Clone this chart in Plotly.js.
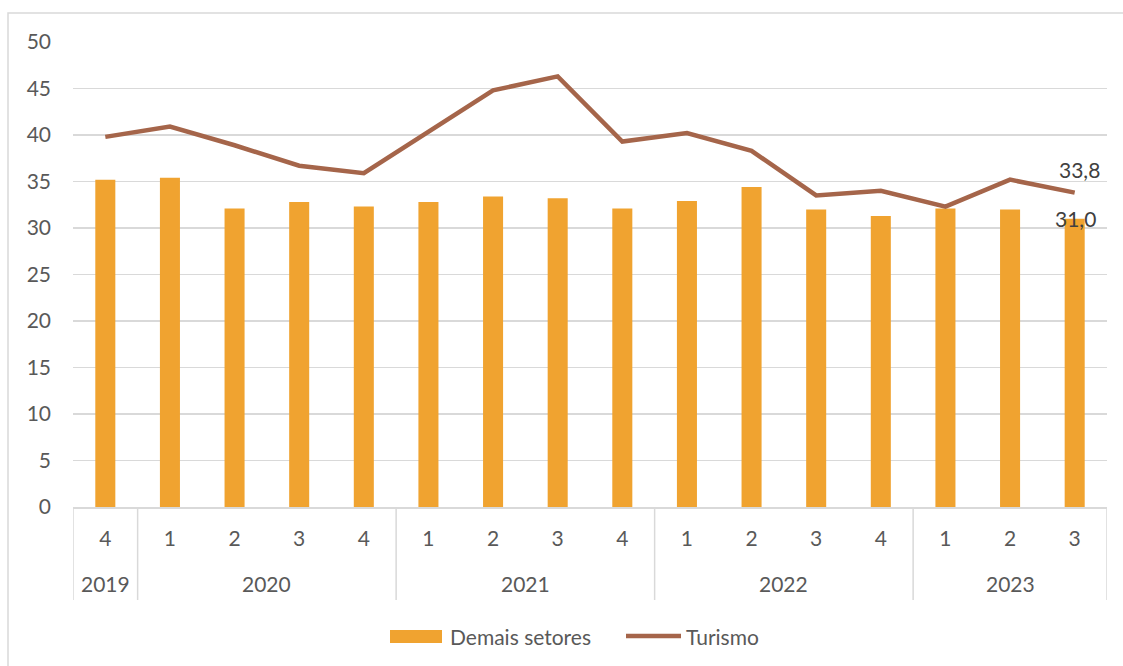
<!DOCTYPE html>
<html>
<head>
<meta charset="utf-8">
<script src="https://cdn.plot.ly/plotly-3.0.1.min.js"></script>
<style>html,body{margin:0;padding:0;background:#fff;}#chart{width:1123px;height:666px;}</style>
</head>
<body>
<div id="chart"></div>
<script>
const years = ["2019","2020","2020","2020","2020","2021","2021","2021","2021","2022","2022","2022","2022","2023","2023","2023"];
const quarters = ["4","1","2","3","4","1","2","3","4","1","2","3","4","1","2","3"];
const demaisSetores = [35.2,35.4,32.1,32.8,32.3,32.8,33.4,33.2,32.1,32.9,34.4,32.0,31.3,32.1,32.0,31.0];
const turismo = [39.8,40.9,38.9,36.7,35.9,40.3,44.8,46.3,39.3,40.2,38.3,33.5,34.0,32.3,35.2,33.8];
const yTicks = [0,5,10,15,20,25,30,35,40,45,50];
const seriesNames = ["Demais setores", "Turismo"];
const colors = ["#F0A330", "#A5654A"];

const fmt = v => v.toFixed(1).replace('.', ',');
const idx = quarters.map((_, i) => i);
const last = idx.length - 1;
const W = 1123, H = 666, mL = 73, mR = 16, mT = 42, mB = 159;
const pw = W - mL - mR, ph = H - mT - mB;
const px = x => (x - mL) / pw, py = y => (H - mB - y) / ph;
const TXT = '#595959', GRID = '#d9d9d9', FS = 21;

// year groups
const groups = [];
years.forEach((y, i) => {
  if (!groups.length || groups[groups.length - 1].year !== y) groups.push({year: y, start: i, end: i});
  else groups[groups.length - 1].end = i;
});

const traces = [
  {type:'bar', name:seriesNames[0], x:idx, y:demaisSetores,
   marker:{color:colors[0], line:{width:0}}, hoverinfo:'y', showlegend:false},
  {type:'scatter', mode:'lines', name:seriesNames[1], x:idx, y:turismo,
   line:{color:colors[1], width:4.5}, hoverinfo:'y', showlegend:false}
];

const annotations = [
  {x:last, y:turismo[last], xref:'x', yref:'y', text:fmt(turismo[last]), showarrow:false,
   xshift:5, yshift:23, font:{size:FS, color:'#404040'}},
  {x:last, y:demaisSetores[last], xref:'x', yref:'y', text:fmt(demaisSetores[last]), showarrow:false,
   xshift:1, yshift:0, font:{size:FS, color:'#404040'}},
  {x:px(448), y:py(636), xref:'paper', yref:'paper', xanchor:'left', yanchor:'middle',
   text:seriesNames[0], showarrow:false, font:{size:FS, color:TXT}},
  {x:px(684), y:py(636), xref:'paper', yref:'paper', xanchor:'left', yanchor:'middle',
   text:seriesNames[1], showarrow:false, font:{size:FS, color:TXT}}
];
groups.forEach(g => annotations.push({
  x:(g.start + g.end) / 2, y:py(583.5), xref:'x', yref:'paper', yanchor:'middle',
  text:g.year, showarrow:false, font:{size:FS, color:TXT}
}));

const shapes = [
  {type:'rect', xref:'paper', yref:'paper', x0:px(8), x1:px(1140), y0:py(13), y1:py(690),
   line:{color:GRID, width:1.5}, fillcolor:'rgba(0,0,0,0)', layer:'below'},
  {type:'rect', xref:'paper', yref:'paper', x0:px(390), x1:px(442), y0:py(643), y1:py(630),
   line:{width:0}, fillcolor:colors[0]},
  {type:'line', xref:'paper', yref:'paper', x0:px(626), x1:px(681), y0:py(636), y1:py(636),
   line:{color:colors[1], width:4.5}}
];
const bounds = [groups[0].start - 0.5].concat(groups.map(g => g.end + 0.5));
bounds.forEach(b => shapes.push({type:'line', xref:'x', yref:'paper', x0:b, x1:b, y0:py(507), y1:py(600),
   line:{color:GRID, width:1.5}}));

const layout = {
  width: W, height: H,
  margin:{l:mL, r:mR, t:mT, b:mB, pad:0},
  paper_bgcolor:'#ffffff', plot_bgcolor:'#ffffff',
  font:{family:'Lato, "Open Sans", sans-serif', size:FS, color:TXT},
  bargap:0.69,
  showlegend:false,
  xaxis:{type:'linear', range:[-0.5, last + 0.5], tickvals:idx, ticktext:quarters,
         showgrid:false, zeroline:false, showline:true, linecolor:GRID, linewidth:1.5,
         ticks:'', ticklabelstandoff:12, tickfont:{size:FS, color:TXT}},
  yaxis:{range:[0,50], tickvals:yTicks, ticktext:yTicks.map(String),
         showgrid:true, gridcolor:GRID, gridwidth:1.5,
         zeroline:false, showline:false, ticks:'', ticklabelstandoff:21,
         tickfont:{size:FS, color:TXT}},
  annotations: annotations,
  shapes: shapes
};

Plotly.newPlot('chart', traces, layout, {displayModeBar:false, staticPlot:true});
</script>
</body>
</html>
